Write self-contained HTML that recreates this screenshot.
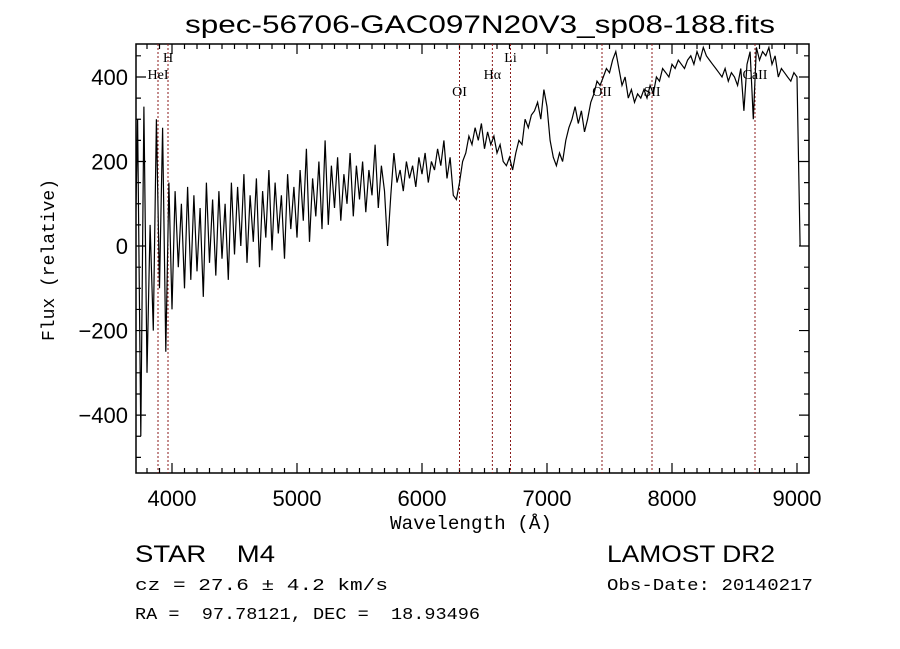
<!DOCTYPE html>
<html><head><meta charset="utf-8"><style>
body{margin:0;background:#fff;}
svg{display:block;}
text{fill:#000;white-space:pre;}
</style></head><body>
<svg id="chart" width="900" height="649" xmlns="http://www.w3.org/2000/svg">
<rect width="900" height="649" fill="#fff"/>
<text x="185" y="33" textLength="590" lengthAdjust="spacingAndGlyphs" font-family="Liberation Sans, sans-serif" font-size="25">spec-56706-GAC097N20V3_sp08-188.fits</text>
<g id="axes"></g>
<g id="lines"></g>
<clipPath id="clip"><rect x="136" y="44" width="673" height="429"/></clipPath>
<path id="spec" clip-path="url(#clip)" fill="none" stroke="#000" stroke-width="1.2"/>
<text x="390" y="529" textLength="162" lengthAdjust="spacingAndGlyphs" font-family="Liberation Mono, monospace" font-size="19">Wavelength (Å)</text>
<text transform="translate(54,260) rotate(-90)" text-anchor="middle" font-family="Liberation Mono, monospace" font-size="18">Flux (relative)</text>
<text x="135" y="562" textLength="140" lengthAdjust="spacingAndGlyphs" font-family="Liberation Sans, sans-serif" font-size="24">STAR    M4</text>
<text x="135" y="590" textLength="253" lengthAdjust="spacingAndGlyphs" font-family="Liberation Mono, monospace" font-size="17">cz = 27.6 ± 4.2 km/s</text>
<text x="135" y="619" textLength="345" lengthAdjust="spacingAndGlyphs" font-family="Liberation Mono, monospace" font-size="17">RA =  97.78121, DEC =  18.93496</text>
<text x="607" y="562" textLength="168" lengthAdjust="spacingAndGlyphs" font-family="Liberation Sans, sans-serif" font-size="24">LAMOST DR2</text>
<text x="607" y="590" textLength="206" lengthAdjust="spacingAndGlyphs" font-family="Liberation Mono, monospace" font-size="17">Obs-Date: 20140217</text>
</svg>
<script>
const flux = [-100,300,-450,330,-300,50,-200,300,-100,280,-250,150,
-150,130,-50,100,-100,140,-80,120,-60,90,-120,150,-40,110,-70,130,-30,100,-80,150,
-20,140,0,170,-40,120,10,160,-50,130,20,180,-10,150,30,120,-30,170,40,140,
20,180,60,230,10,160,70,200,40,250,50,190,90,210,60,170,100,220,70,190,
110,200,80,180,120,240,90,190,130,0,
120,220,150,180,130,200,160,190,140,210,
170,220,150,200,180,230,190,250,160,210,120,110,
150,200,220,260,240,280,250,290,230,270,240,260,
220,240,200,190,210,180,220,250,240,300,280,310,
320,340,300,370,330,250,210,190,220,200,250,280,
300,330,290,320,270,300,340,360,390,380,400,420,
410,440,460,420,380,400,350,370,340,360,350,370,
350,380,360,400,390,420,410,400,430,420,440,430,
420,440,450,430,460,440,470,450,440,430,420,410,
400,420,390,410,400,380,420,320,430,460,300,470,
440,460,450,470,430,450,400,420,410,400,390,410,
400,0];
const waveStart = 3700, waveStep = 25;
const lineNames = ["HeI","H","OI","Hα","Li","OII","SII","CaII"];
const lineWaves = [3888,3968,6300,6563,6708,7440,7840,8664];
const lineLabelRow = [1,0,2,1,0,2,2,1];
const xTicks = [4000,5000,6000,7000,8000,9000];
const yTicks = [-400,-200,0,200,400];

const L=136,R=809,T=44,B=473;
const xMin=3712,xMax=9096,yMin=-537,yMax=478;
const X=w=>L+(w-xMin)/(xMax-xMin)*(R-L);
const Y=f=>B-(f-yMin)/(yMax-yMin)*(B-T);
const NS="http://www.w3.org/2000/svg";
const axes=document.getElementById('axes');
function mk(tag,attrs,parent){const e=document.createElementNS(NS,tag);for(const k in attrs)e.setAttribute(k,attrs[k]);parent.appendChild(e);return e;}
const frame=mk('rect',{x:L,y:T,width:R-L,height:B-T,fill:'none',stroke:'#000','stroke-width':1.5},axes);


let d='';
for(let w=3800;w<=9000;w+=100){const x=X(w);const len=(w%1000===0)?10:5;d+=`M${x},${B}v${-len}M${x},${T}v${len}`;}
for(let f=-500;f<=450;f+=50){const y=Y(f);const len=(f%200===0)?10:5;d+=`M${L},${y}h${len}M${R},${y}h${-len}`;}
const ticks=mk('path',{d:d,stroke:'#000','stroke-width':1.2,fill:'none'},axes);


xTicks.forEach(w=>{const t=mk('text',{x:X(w),y:B+33,'text-anchor':'middle','font-family':'Liberation Sans, sans-serif','font-size':22},axes);t.textContent=w;

});
yTicks.forEach(f=>{const t=mk('text',{x:L-8,y:Y(f)+8,'text-anchor':'end','font-family':'Liberation Sans, sans-serif','font-size':22},axes);t.textContent=(f<0?'\u2212'+(-f):f);

});
const lg=document.getElementById('lines');
lineWaves.forEach((w,i)=>{const x=X(w);
const ln=mk('line',{x1:x,x2:x,y1:T,y2:B,stroke:'#8b1a1a','stroke-width':1,'stroke-dasharray':'2,2'},lg);


const t=mk('text',{x:x,y:62+lineLabelRow[i]*17,'text-anchor':'middle','font-family':'Liberation Serif, serif','font-size':14},lg);t.textContent=lineNames[i];

});
let p='';
flux.forEach((f,i)=>{const w=waveStart+i*waveStep;p+=(i?'L':'M')+X(w).toFixed(1)+','+Y(f).toFixed(1);});
document.getElementById('spec').setAttribute('d',p);
</script>
</body></html>
